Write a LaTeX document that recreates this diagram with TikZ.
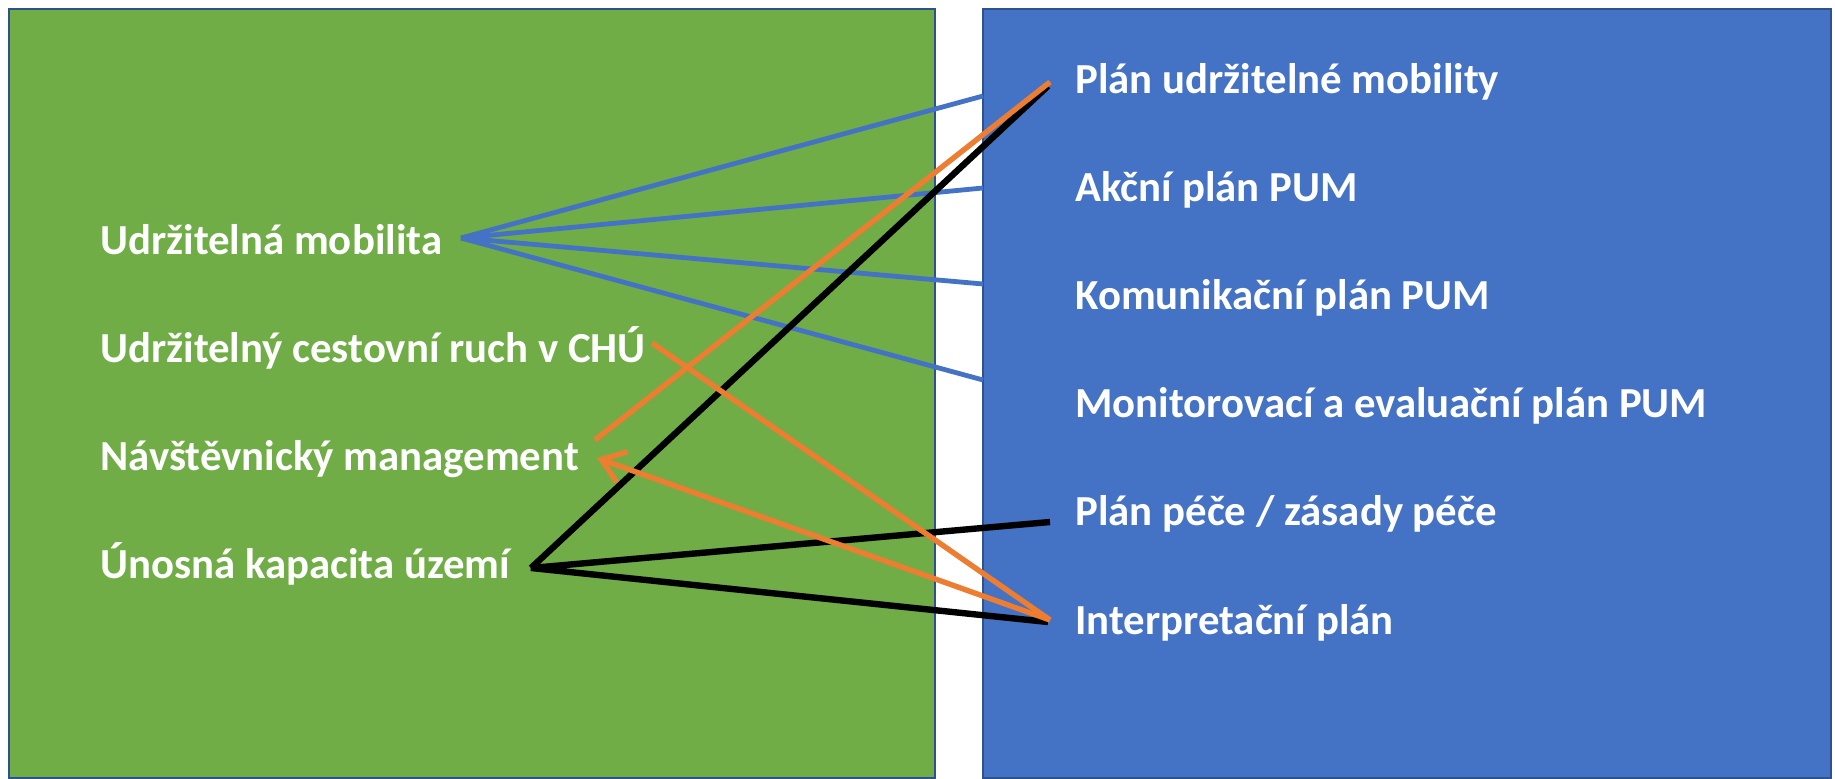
\documentclass[tikz,border=0pt]{standalone}
\usepackage{fontspec}
\setmainfont{Carlito}
\usetikzlibrary{arrows.meta}
\definecolor{ogreen}{HTML}{70AD47}
\definecolor{oblue}{HTML}{4472C4}
\definecolor{oborder}{HTML}{2F528F}
\definecolor{oorange}{HTML}{ED7D31}
\begin{document}
\begin{tikzpicture}[x=0.5pt,y=-0.5pt,
  lbl/.style={anchor=base west, text=white, inner sep=0pt, font=\bfseries\fontsize{21.4}{25}\selectfont},
  panel/.style={draw=oborder, line width=1pt},
  blueline/.style={draw=oblue, line width=2.4pt},
  orangeline/.style={draw=oorange, line width=2.7pt},
  blackline/.style={draw=black, line width=3.2pt}]
\useasboundingbox (0,0) rectangle (1835,779);
\fill[white] (0,0) rectangle (1835,779);
\path[panel, fill=ogreen] (9,9) rectangle (935,778);
\path[panel, fill=oblue] (983,9) rectangle (1831,778);
% left labels
\node[lbl] (um) at (100,255) {Udržitelná mobilita};
\node[lbl] (cr) at (100,363) {Udržitelný cestovní ruch v CHÚ};
\node[lbl] (nm) at (100,471) {Návštěvnický management};
\node[lbl] (uk) at (100,579) {Únosná kapacita území};
% right labels
\node[lbl] (pum) at (1075,94) {Plán udržitelné mobility};
\node[lbl] (ap) at (1075,202) {Akční plán PUM};
\node[lbl] (kp) at (1075,310) {Komunikační plán PUM};
\node[lbl] (mp) at (1075,418) {Monitorovací a evaluační plán PUM};
\node[lbl] (pp) at (1075,526) {Plán péče / zásady péče};
\node[lbl] (ip) at (1075,635) {Interpretační plán};
% connector end points
\coordinate (umR) at (461,238);
\coordinate (pumB1) at (983,96);
\coordinate (apB) at (983,188);
\coordinate (kpB) at (983,284);
\coordinate (mpB) at (983,380);
\coordinate (nmO) at (595,440);
\coordinate (nmA) at (597,458);
\coordinate (crO) at (652,343);
\coordinate (pumO) at (1050,82);
\coordinate (pumK) at (1048,86);
\coordinate (ipO) at (1050,620);
\coordinate (ipK) at (1048,622);
\coordinate (ppK) at (1050,522);
\coordinate (ukK) at (531,568);
% blue connectors
\draw[blueline] (umR) -- (pumB1);
\draw[blueline] (umR) -- (apB);
\draw[blueline] (umR) -- (kpB);
\draw[blueline] (umR) -- (mpB);
% black connectors
\draw[blackline] (ukK) -- (pumK);
\draw[blackline, line join=miter] (ppK) -- (ukK) -- (ipK);
% orange connectors
\draw[orangeline] (nmO) -- (pumO);
\draw[orangeline] (crO) -- (ipO);
\draw[orangeline, -{Straight Barb[length=11pt,width=16pt]}] (ipO) -- (nmA);
\end{tikzpicture}
\end{document}
